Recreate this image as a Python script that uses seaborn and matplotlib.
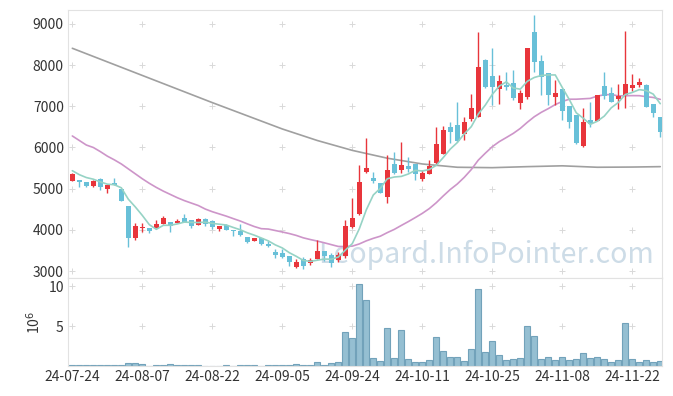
import numpy as np
import pandas as pd
import matplotlib
matplotlib.use("Agg")
import matplotlib.pyplot as plt
import seaborn as sns

# trading days 24-07-24 .. 24-11-28 (KRX holidays removed)
holidays = ["2024-08-15", "2024-09-16", "2024-09-17", "2024-09-18",
            "2024-10-01", "2024-10-03", "2024-10-09"]
dates = pd.bdate_range("2024-07-24", "2024-11-28")
dates = dates[~dates.isin(pd.to_datetime(holidays))]

open_ = [5190, 5210, 5160, 5072, 5235, 4985, 5130, 4990, 4580, 3795,
         4040, 4045, 4050, 4142, 4190, 4166, 4280, 4232, 4126, 4255,
         4215, 4028, 4125, 3990, 3972, 3826, 3736, 3802, 3663, 3462,
         3437, 3364, 3105, 3300, 3187, 3300, 3486, 3389, 3260, 3364,
         4061, 4377, 5405, 5267, 5137, 4790, 5599, 5453, 5550, 5599,
         5227, 5363, 5616, 5835, 6505, 6546, 6328, 6692, 6749, 8125,
         7744, 7421, 7518, 7574, 7073, 7234, 8806, 8101, 7801, 7226,
         7421, 7008, 6789, 6044, 6668, 6652, 7486, 7316, 7186, 7283,
         7445, 7510, 7518, 7056, 6733]
high = [5380, 5220, 5170, 5210, 5250, 5100, 5250, 5000, 4590, 4160,
        4175, 4050, 4240, 4335, 4200, 4270, 4377, 4240, 4295, 4290,
        4230, 4100, 4130, 3995, 4134, 3830, 3805, 3810, 3729, 3542,
        3527, 3370, 3284, 3340, 3308, 3753, 3490, 3430, 3470, 4239,
        4766, 5568, 6231, 5412, 5140, 5810, 5890, 6133, 5776, 5605,
        5453, 5696, 6510, 6530, 6612, 7098, 6748, 7292, 8813, 8140,
        8409, 7754, 7841, 7875, 7396, 8420, 9218, 8247, 7810, 7640,
        7430, 7010, 6795, 6952, 7113, 7275, 7834, 7462, 7542, 8830,
        7785, 7696, 7542, 7060, 6740]
low = [5180, 5050, 5050, 5033, 4967, 4887, 5090, 4690, 3575, 3750,
       3955, 3915, 4045, 4135, 3940, 4160, 4195, 4035, 4120, 4093,
       4020, 3965, 3995, 3857, 3860, 3673, 3730, 3632, 3590, 3308,
       3308, 3121, 3065, 3041, 3146, 3295, 3250, 3105, 3226, 3323,
       4050, 4370, 5373, 5145, 4895, 4644, 5365, 5388, 5412, 5210,
       5193, 5349, 5610, 5830, 6116, 6141, 6182, 6644, 6740, 7440,
       7032, 7049, 7396, 7154, 6942, 7170, 7827, 7275, 7032, 7032,
       6668, 6466, 6095, 6005, 6505, 6640, 7170, 7105, 6928, 6952,
       7365, 7477, 6985, 6733, 6248]
close = [5360, 5170, 5075, 5178, 5035, 5090, 5100, 4700, 3795, 4093,
         4060, 3980, 4135, 4280, 4100, 4222, 4200, 4100, 4263, 4150,
         4075, 4093, 4005, 3965, 3867, 3712, 3802, 3663, 3615, 3381,
         3340, 3226, 3219, 3121, 3260, 3486, 3364, 3202, 3381, 4093,
         4287, 5162, 5502, 5186, 4902, 5453, 5373, 5575, 5478, 5349,
         5373, 5550, 6085, 6425, 6376, 6158, 6612, 6959, 7955, 7460,
         7460, 7622, 7477, 7209, 7316, 8417, 8085, 7720, 7275, 7316,
         6894, 6627, 6101, 6619, 6571, 7268, 7251, 7113, 7259, 7542,
         7518, 7599, 6991, 6830, 6384]
volume = [0.12, 0.12, 0.12, 0.12, 0.12, 0.12, 0.12, 0.12, 0.33, 0.33,
          0.2, 0.05, 0.1, 0.1, 0.2, 0.1, 0.1, 0.1, 0.1, 0.03,
          0.03, 0.03, 0.1, 0.03, 0.1, 0.1, 0.1, 0.03, 0.1, 0.1,
          0.1, 0.1, 0.25, 0.1, 0.15, 0.5, 0.1, 0.35, 0.5, 4.2,
          3.5, 10.2, 8.2, 1.0, 0.6, 4.7, 1.0, 4.5, 0.9, 0.5,
          0.5, 0.75, 3.6, 1.9, 1.1, 1.1, 0.6, 2.1, 9.6, 1.75,
          3.1, 1.4, 0.75, 0.9, 1.0, 5.0, 3.7, 0.9, 1.1, 0.75,
          1.1, 0.75, 0.9, 1.6, 1.0, 1.1, 0.9, 0.5, 0.75, 5.4,
          0.9, 0.5, 0.75, 0.5, 0.6]

# moving averages: first values need data before the window
ma5_head = [5436, 5340, 5270, 5230]
ma20_head = [6280, 6170, 6060, 6000, 5900, 5790, 5700, 5600, 5480, 5360,
             5240, 5130, 5030, 4940, 4860, 4780, 4710, 4650, 4590]
ma120_idx = [0, 5, 10, 15, 20, 25, 30, 35, 40, 45, 50, 55, 60, 65, 70, 75, 80, 84]
ma120 = [8410, 8080, 7750, 7420, 7090, 6770, 6450, 6170, 5930, 5740,
         5600, 5520, 5510, 5535, 5555, 5520, 5525, 5535]

df = pd.DataFrame({"date": dates, "open": open_, "high": high, "low": low,
                   "close": close, "volume": volume})
df["i"] = np.arange(len(df))
df["ma5"] = df["close"].rolling(5).mean()
df.loc[:3, "ma5"] = ma5_head
df["ma20"] = df["close"].rolling(20).mean()
df.loc[:18, "ma20"] = ma20_head

sns.set_theme(style="white")
plt.rcParams["font.family"] = ["Noto Sans CJK KR", "DejaVu Sans"]

UP = "#e8353b"
DOWN = "#68c0d8"
GRID = "#d9d9d9"

fig = plt.figure(figsize=(6.73, 3.96), dpi=100)
ax = fig.add_axes([68 / 673, 1 - 278 / 396, 594 / 673, 268 / 396])
axv = fig.add_axes([68 / 673, 1 - 366 / 396, 594 / 673, 88 / 396], sharex=ax)

xt = list(range(0, 85, 10))

# plus marks at tick crossings
yt = list(range(3000, 9001, 1000))
gx, gy = np.meshgrid(xt, yt)
ax.scatter(gx.ravel(), gy.ravel(), marker="+", s=18, lw=0.7, color=GRID, zorder=0)
gx2, gy2 = np.meshgrid(xt, [5, 10])
axv.scatter(gx2.ravel(), gy2.ravel(), marker="+", s=18, lw=0.7, color=GRID, zorder=0)

ax.text(0.704, 0.088, "Leopard.InfoPointer.com", transform=ax.transAxes,
        ha="center", va="center", fontsize=20.5, color="#cddce7", zorder=1)

# moving averages
sns.lineplot(x=ma120_idx, y=ma120, ax=ax, color="#a0a0a0", lw=1.2, zorder=2)
sns.lineplot(data=df, x="i", y="ma20", ax=ax, color="#cd95c9", lw=1.2, zorder=2)
sns.lineplot(data=df, x="i", y="ma5", ax=ax, color="#96d3c5", lw=1.2, zorder=4)

# candles
colors = np.where(df["close"] >= df["open"], UP, DOWN)
ax.vlines(df["i"], df["low"], df["high"], colors=colors, lw=1.0, zorder=3)
body_lo = np.minimum(df["open"], df["close"])
body_h = np.maximum((df["close"] - df["open"]).abs(), 15)
ax.bar(df["i"], body_h, bottom=body_lo, width=0.7, color=colors, lw=0, zorder=3)

ax.set_ylim(2830, 9340)
ax.set_yticks(yt)
ax.set_xlim(-0.62, 84.25)
ax.set_xlabel("")
ax.set_ylabel("")
ax.tick_params(axis="x", labelbottom=False, length=0)
ax.tick_params(axis="y", length=0, labelsize=10, labelcolor="#333333", pad=3)

# volume
sns.barplot(data=df, x="i", y="volume", ax=axv, native_scale=True, width=0.85,
            color="#95bfd2", edgecolor="#72a2ba", linewidth=0.8, saturation=1)
axv.set_ylim(0, 11)
axv.set_yticks([5, 10])
axv.set_xlim(-0.62, 84.25)
axv.set_xticks(xt)
axv.set_xticklabels([dates[k].strftime("%y-%m-%d") for k in xt])
axv.set_xlabel("")
axv.set_ylabel("10$^6$", fontsize=10, color="#333333", labelpad=4)
axv.tick_params(length=0, labelsize=10, labelcolor="#333333", pad=3)

for a in (ax, axv):
    for s in a.spines.values():
        s.set_color("#e2e2e2")
        s.set_linewidth(0.8)

fig.savefig("out.png", dpi=100)
